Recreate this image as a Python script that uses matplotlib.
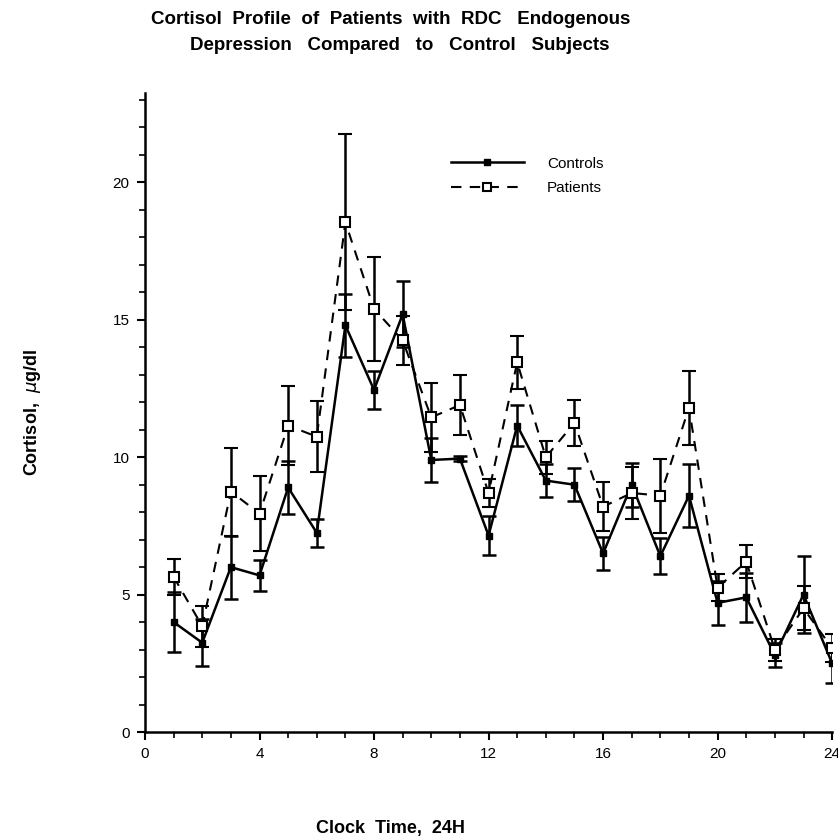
import numpy as np
import matplotlib
matplotlib.use("Agg")
import matplotlib.pyplot as plt
from matplotlib.ticker import MultipleLocator
from matplotlib.lines import Line2D

plt.rcParams['font.family'] = ['Liberation Sans', 'DejaVu Sans']

# clock hour
hours = list(range(1, 25))

# cortisol, ug/dl (means and SEM)
controls = [4.0, 3.25, 6.0, 5.7, 8.9, 7.25, 14.8, 12.45, 15.2, 9.9, 9.95, 7.15,
            11.15, 9.15, 9.0, 6.5, 9.0, 6.4, 8.6, 4.7, 4.9, 2.8, 5.0, 2.5]
controls_err = [1.1, 0.85, 1.15, 0.55, 0.95, 0.5, 1.15, 0.7, 1.2, 0.8, 0.1, 0.7,
                0.75, 0.6, 0.6, 0.6, 0.8, 0.65, 1.15, 0.8, 0.9, 0.45, 1.4, 0.7]
patients = [5.65, 3.85, 8.75, 7.95, 11.15, 10.75, 18.55, 15.4, 14.25, 11.45, 11.9, 8.7,
            13.45, 10.0, 11.25, 8.2, 8.7, 8.6, 11.8, 5.25, 6.2, 3.0, 4.5, 3.05]
patients_err = [0.65, 0.75, 1.6, 1.35, 1.45, 1.3, 3.2, 1.9, 0.9, 1.25, 1.1, 0.5,
                0.95, 0.6, 0.85, 0.9, 0.95, 1.35, 1.35, 0.5, 0.6, 0.4, 0.8, 0.5]

fig = plt.figure(figsize=(8.38, 8.39), dpi=100)
ax = fig.add_axes([0.173, 0.1275, 0.82, 0.7615])

ax.errorbar(hours, controls, yerr=controls_err, color='black', linewidth=1.8,
            marker='s', markersize=4, markerfacecolor='black',
            elinewidth=1.8, capsize=5, capthick=1.8, zorder=2)
ax.errorbar(hours, patients, yerr=patients_err, color='black', linewidth=1.5,
            linestyle=(0, (5, 4)), marker='s', markersize=7, markerfacecolor='white',
            markeredgewidth=1.5, elinewidth=1.8, capsize=5, capthick=1.8, zorder=3)

ax.set_xlim(0, 24)
ax.set_ylim(0, 23.25)
ax.xaxis.set_major_locator(MultipleLocator(4))
ax.xaxis.set_minor_locator(MultipleLocator(1))
ax.yaxis.set_major_locator(MultipleLocator(5))
ax.yaxis.set_minor_locator(MultipleLocator(1))
ax.tick_params(which='major', direction='out', length=6, width=1.5, labelsize=11, pad=5)
ax.tick_params(which='minor', direction='out', length=4, width=1.2)
ax.spines['top'].set_visible(False)
ax.spines['right'].set_visible(False)
ax.spines['left'].set_linewidth(1.8)
ax.spines['bottom'].set_linewidth(1.8)

ax.set_ylabel('Cortisol,  $\\mu$g/dl', fontsize=13, fontweight='bold', labelpad=50)
fig.text(0.466, 1 - 828 / 839, 'Clock  Time,  24H', ha='center', va='center',
         fontsize=13, fontweight='bold')

handles = [
    Line2D([], [], color='black', linewidth=1.8, marker='s', markersize=4,
           markerfacecolor='black'),
    Line2D([], [], color='black', linewidth=1.5, linestyle=(0, (5, 4)), marker='s',
           markersize=6, markerfacecolor='white', markeredgewidth=1.5),
]
ax.legend(handles, ['Controls', 'Patients'], loc='upper left',
          bbox_to_anchor=(0.425, 0.922), frameon=False, handlelength=4.8,
          fontsize=11, numpoints=1, labelspacing=0.7, handletextpad=1.5)

fig.text(391 / 838, 1 - 20 / 839, 'Cortisol  Profile  of  Patients  with  RDC   Endogenous',
         ha='center', va='center', fontsize=13.5, fontweight='bold')
fig.text(400 / 838, 1 - 45 / 839, 'Depression   Compared   to   Control   Subjects',
         ha='center', va='center', fontsize=13.5, fontweight='bold')

fig.savefig('out.png', dpi=100)
